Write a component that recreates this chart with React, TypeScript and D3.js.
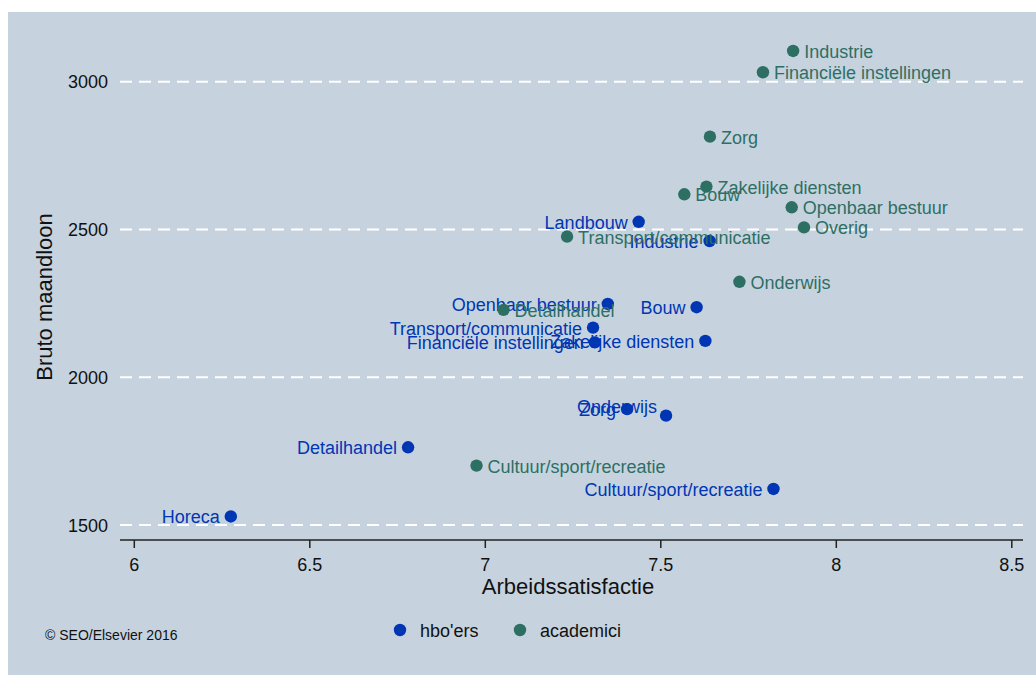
import { scaleLinear } from 'd3';

// hbo'ers (blue)
const hboSectors = [
  'Landbouw', 'Industrie', 'Openbaar bestuur', 'Bouw', 'Transport/communicatie',
  'Financiële instellingen', 'Zakelijke diensten', 'Zorg', 'Onderwijs',
  'Detailhandel', 'Cultuur/sport/recreatie', 'Horeca',
];
const hboSatisfaction = [7.437, 7.639, 7.349, 7.602, 7.307, 7.312, 7.627, 7.404, 7.515, 6.78, 7.821, 6.275];
const hboWage = [2526, 2461, 2248, 2237, 2168, 2118, 2123, 1892, 1870, 1763, 1622, 1529];

// academici (green)
const acadSectors = [
  'Industrie', 'Financiële instellingen', 'Zorg', 'Zakelijke diensten', 'Bouw',
  'Openbaar bestuur', 'Overig', 'Transport/communicatie', 'Onderwijs',
  'Detailhandel', 'Cultuur/sport/recreatie',
];
const acadSatisfaction = [7.877, 7.791, 7.64, 7.63, 7.567, 7.873, 7.908, 7.233, 7.724, 7.052, 6.975];
const acadWage = [3104, 3032, 2814, 2645, 2619, 2575, 2507, 2476, 2323, 2228, 1701];

const xTicks = [6, 6.5, 7, 7.5, 8, 8.5];
const yTicks = [1500, 2000, 2500, 3000];
const legendLabels = ["hbo'ers", 'academici'];

const width = 1036;
const height = 675;
const blue = '#0036b4';
const green = '#2e6f64';
const font = '"Liberation Sans", Arial, Helvetica, sans-serif';

export default function App() {
  const x = scaleLinear().domain([6, 8.5]).range([134.3, 1011.8]);
  const y = scaleLinear().domain([1500, 3000]).range([525, 81.7]);
  const axisY = 540;
  const plotLeft = 120;
  const plotRight = 1023;

  const series = [
    { names: hboSectors, xs: hboSatisfaction, ys: hboWage, color: blue, side: -1 },
    { names: acadSectors, xs: acadSatisfaction, ys: acadWage, color: green, side: 1 },
  ];

  return (
    <svg
      width={width}
      height={height}
      style={{ position: 'fixed', left: 0, top: 0 }}
      fontFamily={font}
    >
      <rect x={0} y={0} width={width} height={height} fill="#ffffff" />
      <rect x={8} y={12} width={width - 8} height={height - 12} fill="#c6d3df" />

      {yTicks.map(tick => (
        <g key={tick}>
          <line
            x1={plotLeft}
            x2={plotRight}
            y1={y(tick)}
            y2={y(tick)}
            stroke="#ffffff"
            strokeWidth={2}
            strokeDasharray="12 7"
          />
          <text x={108} y={y(tick) + 6.5} textAnchor="end" fontSize={18} fill="#111">{tick}</text>
        </g>
      ))}

      <line x1={plotLeft} x2={plotRight} y1={axisY} y2={axisY} stroke="#222" strokeWidth={1.5} />
      {xTicks.map(tick => (
        <g key={tick}>
          <line x1={x(tick)} x2={x(tick)} y1={axisY} y2={axisY + 8} stroke="#222" strokeWidth={1.5} />
          <text x={x(tick)} y={571} textAnchor="middle" fontSize={18} fill="#111">{tick}</text>
        </g>
      ))}

      <text x={568} y={594} textAnchor="middle" fontSize={22} fill="#111">Arbeidssatisfactie</text>
      <text transform="translate(52,297) rotate(-90)" textAnchor="middle" fontSize={22} fill="#111">
        Bruto maandloon
      </text>

      {series.map((s, si) => (
        <g key={si}>
          {s.names.map((name, i) => {
            const cx = x(s.xs[i]);
            const cy = y(s.ys[i]);
            // blue Onderwijs label sits at 10 o'clock
            const raised = si === 0 && name === 'Onderwijs';
            return (
              <g key={name}>
                <circle cx={cx} cy={cy} r={6.2} fill={s.color} />
                <text
                  x={cx + s.side * (raised ? 9 : 11)}
                  y={cy + 7 - (raised ? 10 : 0)}
                  textAnchor={s.side < 0 ? 'end' : 'start'}
                  fontSize={18}
                  fill={s.color}
                >
                  {name}
                </text>
              </g>
            );
          })}
        </g>
      ))}

      <text x={45} y={640} fontSize={14} fill="#111">© SEO/Elsevier 2016</text>

      {legendLabels.map((label, i) => {
        const lx = i === 0 ? 400 : 520;
        return (
          <g key={label}>
            <circle cx={lx} cy={630} r={6.2} fill={i === 0 ? blue : green} />
            <text x={lx + 20} y={636.5} fontSize={18} fill="#111">{label}</text>
          </g>
        );
      })}
    </svg>
  );
}
